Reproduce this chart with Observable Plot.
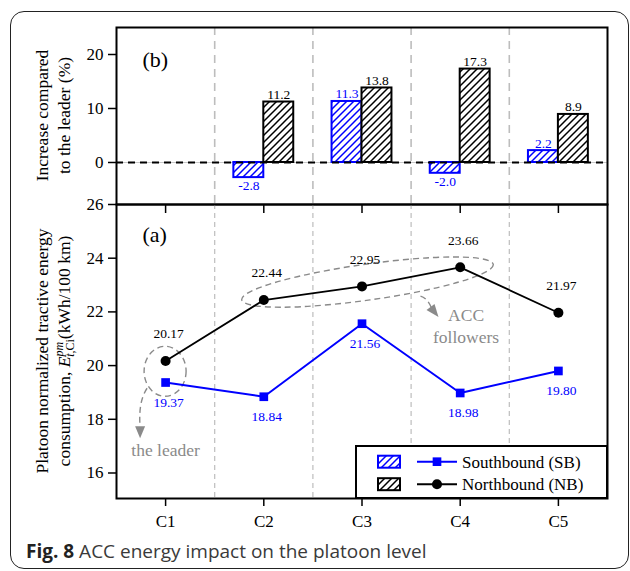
<!DOCTYPE html>
<html>
<head>
<meta charset="utf-8">
<script src="https://cdn.jsdelivr.net/npm/d3@7"></script>
<script src="https://cdn.jsdelivr.net/npm/@observablehq/plot@0.6"></script>
<style>
html, body { margin: 0; padding: 0; background: #fff; overflow: hidden; }
#wrap { position: relative; width: 630px; height: 571px; }
#border { position: absolute; left: 10px; top: 11px; width: 619px; height: 558px; box-sizing: border-box;
  border: 1.4px solid #222; border-radius: 14px; }
#top, #bottom, #legend { position: absolute; left: 0; }
#top { top: 0; }
#bottom { top: 190px; }
#legend { left: 355px; top: 445px; }
#caption { position: absolute; left: 26px; top: 539px; font-family: "Open Sans", sans-serif; font-size: 19px;
  line-height: 25px; color: #3a3a3a; white-space: nowrap; }
#caption b { color: #222; }
svg text { font-family: "Liberation Serif", "Times New Roman", serif; }
</style>
</head>
<body>
<div id="wrap">
  <div id="border"></div>
  <div id="top"></div>
  <div id="bottom"></div>
  <div id="legend"></div>
  <div id="caption"><b>Fig. 8</b> ACC energy impact on the platoon level</div>
</div>
<script>
// ---------- data ----------
const categories = ["C1", "C2", "C3", "C4", "C5"];
const seriesNames = ["Southbound (SB)", "Northbound (NB)"];
const sbIncrease = [null, -2.8, 11.3, -2.0, 2.2];
const nbIncrease = [null, 11.2, 13.8, 17.3, 8.9];
const sbEnergy = [19.37, 18.84, 21.56, 18.98, 19.80];
const nbEnergy = [20.17, 22.44, 22.95, 23.66, 21.97];
const increaseTicks = [0, 10, 20];
const energyTicks = [16, 18, 20, 22, 24, 26];
const panelLabels = ["(b)", "(a)"];
const topTitle = ["Increase compared", "to the leader (%)"];
const bottomTitle = ["Platoon normalized tractive energy", "consumption, "];
const leaderNote = [{text: "the leader", cat: "C1", y: 16.85}];
const followerNote = [{text: "ACC", cat: "C4", y: 21.88}, {text: "followers", cat: "C4", y: 21.05}];

// ---------- styles ----------
const SB = "#0000ff", NB = "#000000", GRAY = "#8a8a8a", SEP = "#bdbdbd";
const FONT = "Liberation Serif";
const barW = 0.305;

// hatch patterns
const defs = d3.select("body").append("svg").attr("width", 0).attr("height", 0)
  .style("position", "absolute").append("defs");
[["hatchSB", SB], ["hatchNB", NB]].forEach(([id, c]) => {
  const p = defs.append("pattern").attr("id", id).attr("patternUnits", "userSpaceOnUse")
    .attr("width", 7).attr("height", 7);
  p.append("rect").attr("width", 7).attr("height", 7).attr("fill", "white");
  p.append("path").attr("d", "M-1,1 l2,-2 M0,7 l7,-7 M6,8 l2,-2").attr("stroke", c).attr("stroke-width", 1.5);
});

const idx = categories.map((c, k) => k + 1);
const separators = idx.slice(1).map(i => i - 0.5);
const mk = (vals) => categories.map((c, k) => ({cat: c, i: k + 1, v: vals[k]})).filter(d => d.v != null);
const sbBars = mk(sbIncrease), nbBars = mk(nbIncrease);
const sbRows = mk(sbEnergy), nbRows = mk(nbEnergy);
const catIndex = c => categories.indexOf(c) + 1;

const baseStyle = {fontFamily: FONT, fontSize: "17px", color: "black", background: "transparent", overflow: "visible"};
const LBL = 13.5;

// ---------- top panel (b) ----------
const topPlot = Plot.plot({
  width: 630, height: 205,
  marginLeft: 116, marginRight: 23, marginTop: 27, marginBottom: 1,
  style: baseStyle,
  x: {type: "linear", domain: [0.5, categories.length + 0.5], axis: null, label: null},
  y: {domain: [-7.78, 25], axis: null, label: null},
  marks: [
    Plot.ruleX(separators, {stroke: SEP, strokeWidth: 1.6, strokeDasharray: "8,6"}),
    Plot.ruleY([0], {stroke: "#c8c8c8", strokeWidth: 1}),
    Plot.rect(sbBars, {x1: d => d.i - barW, x2: d => d.i, y1: d => 0, y2: "v", fill: "url(#hatchSB)", stroke: SB, strokeWidth: 2}),
    Plot.rect(nbBars, {x1: d => d.i, x2: d => d.i + barW, y1: d => 0, y2: "v", fill: "url(#hatchNB)", stroke: NB, strokeWidth: 2}),
    Plot.ruleY([0], {stroke: "black", strokeWidth: 2.2, strokeDasharray: "7,5"}),
    Plot.text(sbBars.filter(d => d.v > 0), {x: d => d.i - barW / 2, y: "v", text: d => d.v.toFixed(1), fill: SB, lineAnchor: "bottom", dy: -3, fontSize: LBL}),
    Plot.text(sbBars.filter(d => d.v < 0), {x: d => d.i - barW / 2, y: "v", text: d => d.v.toFixed(1), fill: SB, lineAnchor: "top", dy: 3, fontSize: LBL}),
    Plot.text(nbBars.filter(d => d.v > 0), {x: d => d.i + barW / 2, y: "v", text: d => d.v.toFixed(1), fill: NB, lineAnchor: "bottom", dy: -3, fontSize: LBL}),
    Plot.text([panelLabels[0]], {frameAnchor: "top-left", text: d => d, dx: 26, dy: 24, fontSize: 22}),
    Plot.axisY({ticks: increaseTicks, tickSize: 8, tickPadding: 5, fontSize: 17, strokeWidth: 1.5, label: null}),
    Plot.frame({stroke: "black", strokeWidth: 2})
  ]
});
document.getElementById("top").append(topPlot);

// ---------- bottom panel (a) ----------
function annotationShapes(index, scales) {
  const {x, y} = scales;
  const g = d3.create("svg:g");
  const dashed = s => s.attr("fill", "none").attr("stroke", GRAY).attr("stroke-width", 1.4).attr("stroke-dasharray", "6,4");
  // leader circle
  const lx = x(catIndex("C1")), ly = y((sbEnergy[0] + nbEnergy[0]) / 2);
  dashed(g.append("ellipse").attr("cx", lx).attr("cy", ly).attr("rx", 21).attr("ry", 25));
  dashed(g.append("path").attr("d", `M${lx - 18},${ly + 17} Q${lx - 27},${ly + 30} ${lx - 25},${ly + 56}`));
  g.append("path").attr("fill", GRAY)
    .attr("d", `M${lx - 25},${ly + 67} L${lx - 30},${ly + 55} L${lx - 20},${ly + 55} Z`);
  // followers ellipse
  const fx = d3.mean([2, 3, 4], i => x(i)) + 6;
  const fy = d3.mean(nbEnergy.slice(1, 4), v => y(v)) - 2;
  dashed(g.append("ellipse").attr("cx", 0).attr("cy", 0).attr("rx", 127).attr("ry", 18)
    .attr("transform", `translate(${fx},${fy}) rotate(-8)`));
  dashed(g.append("path").attr("d", `M${fx + 53},${fy + 14} Q${fx + 60},${fy + 16} ${fx + 64},${fy + 26}`));
  g.append("path").attr("fill", GRAY)
    .attr("d", `M${fx + 71},${fy + 35} L${fx + 59},${fy + 28} L${fx + 67},${fy + 22} Z`);
  return g.node();
}

const bottomPlot = Plot.plot({
  width: 630, height: 344,
  marginLeft: 116, marginRight: 23, marginTop: 14, marginBottom: 36,
  style: baseStyle,
  x: {type: "linear", domain: [0.5, categories.length + 0.5], axis: null, label: null},
  y: {domain: [15.05, 26], axis: null, label: null},
  marks: [
    Plot.ruleX(separators, {stroke: SEP, strokeWidth: 1.2, strokeDasharray: "5,4"}),
    annotationShapes,
    Plot.line(sbRows, {x: "i", y: "v", stroke: SB, strokeWidth: 2}),
    Plot.dot(sbRows, {x: "i", y: "v", symbol: "square", r: 4.9, fill: SB}),
    Plot.line(nbRows, {x: "i", y: "v", stroke: NB, strokeWidth: 1.8}),
    Plot.dot(nbRows, {x: "i", y: "v", r: 5, fill: NB}),
    Plot.text(nbRows, {x: "i", y: "v", text: d => d.v.toFixed(2), dx: 3, dy: -27, fill: NB, fontSize: LBL}),
    Plot.text(sbRows, {x: "i", y: "v", text: d => d.v.toFixed(2), dx: 3, dy: 20, fill: SB, fontSize: LBL}),
    Plot.text(leaderNote, {x: d => catIndex(d.cat), y: "y", text: "text", fill: GRAY, fontSize: 17.5}),
    Plot.text(followerNote, {x: d => catIndex(d.cat) + 0.06, y: "y", text: "text", fill: GRAY, fontSize: 17.5}),
    Plot.text([panelLabels[1]], {frameAnchor: "top-left", text: d => d, dx: 26, dy: 22, fontSize: 22}),
    Plot.axisY({ticks: energyTicks, tickSize: 8, tickPadding: 5, fontSize: 17, strokeWidth: 1.5, label: null}),
    Plot.axisX({anchor: "bottom", ticks: idx, tickFormat: i => categories[i - 1], tickSize: 8, tickPadding: 8, fontSize: 17, strokeWidth: 1.5, label: null}),
    Plot.axisX({anchor: "top", ticks: idx, tickFormat: () => "", tickSize: -8, strokeWidth: 1.5, label: null}),
    Plot.frame({stroke: "black", strokeWidth: 2})
  ]
});
document.getElementById("bottom").append(bottomPlot);

// ---------- axis titles ----------
function addTitle(svg, lines, cy, math) {
  const s = d3.select(svg);
  const xs = [47.5, 70];
  lines.forEach((ln, k) => {
    const t = s.append("text").attr("transform", `translate(${xs[k]},${cy}) rotate(-90)`)
      .attr("text-anchor", "middle").attr("font-size", "17.5px").attr("fill", "black")
      .attr("font-family", FONT);
    t.append("tspan").text(ln);
    if (math && k === 1) {
      t.append("tspan").attr("font-style", "italic").text("E");
      t.append("tspan").attr("font-style", "italic").attr("font-size", "12px").attr("dy", -7.5).text("pm");
      t.append("tspan").attr("font-style", "italic").attr("font-size", "12px").attr("dx", -15).attr("dy", 11.5).text("t");
      t.append("tspan").attr("font-size", "12px").text(",Ci");
      t.append("tspan").attr("dy", -4).text("(kWh/100 km)");
    }
  });
}
addTitle(topPlot, topTitle, 115.5, false);
addTitle(bottomPlot, bottomTitle, 161, true);

// ---------- legend ----------
const leg = d3.select("#legend").append("svg").attr("width", 254).attr("height", 55);
leg.append("rect").attr("x", 1).attr("y", 1).attr("width", 251).attr("height", 52)
  .attr("fill", "white").attr("stroke", "black").attr("stroke-width", 2);
const legItems = [
  {name: seriesNames[0], color: SB, fill: "url(#hatchSB)", symbol: d3.symbolSquare, size: 75},
  {name: seriesNames[1], color: NB, fill: "url(#hatchNB)", symbol: d3.symbolCircle, size: 80}
];
legItems.forEach((it, k) => {
  const cy = 16.7 + k * 22.5;
  leg.append("rect").attr("x", 23).attr("y", cy - 6).attr("width", 22).attr("height", 12)
    .attr("fill", it.fill).attr("stroke", it.color).attr("stroke-width", 2);
  leg.append("line").attr("x1", 62).attr("x2", 102).attr("y1", cy).attr("y2", cy)
    .attr("stroke", it.color).attr("stroke-width", 2);
  leg.append("path").attr("d", d3.symbol(it.symbol, it.size)()).attr("transform", `translate(82,${cy})`)
    .attr("fill", it.color);
  leg.append("text").attr("x", 107).attr("y", cy).attr("dy", "0.35em").attr("font-size", "17px")
    .attr("fill", "black").attr("font-family", FONT).text(it.name);
});
</script>
</body>
</html>
